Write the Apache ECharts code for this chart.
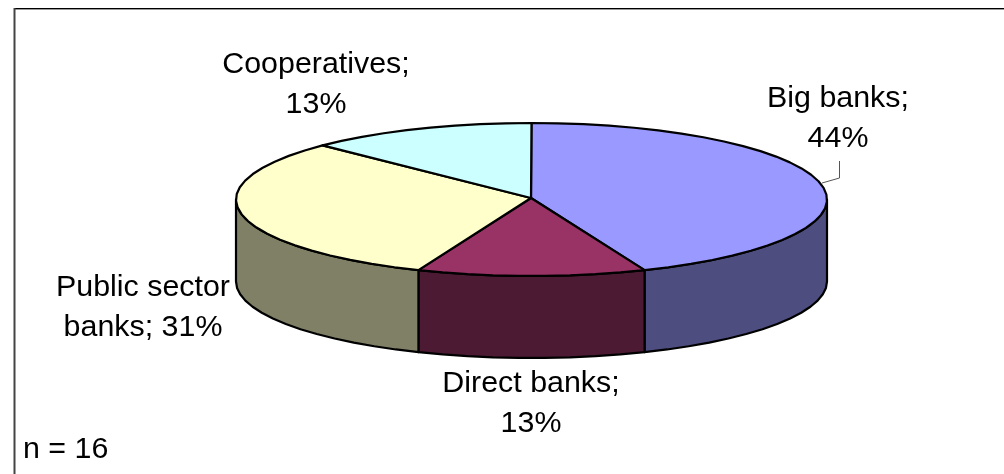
<!DOCTYPE html>
<html>
<head>
<meta charset="utf-8">
<style>html,body{margin:0;padding:0;background:#fff}#chart{width:1004px;height:474px}</style>
<script src="https://cdn.jsdelivr.net/npm/echarts@6/dist/echarts.min.js"></script>
</head>
<body>
<div id="chart"></div>
<script>
// Banking groups and the number of respondents in each; percentages follow from the counts.
const categories = ['Big banks', 'Direct banks', 'Public sector banks', 'Cooperatives'];
const counts = [7, 2, 5, 2];
const labelFormats = ['Big banks;\n{p}%', 'Direct banks;\n{p}%', 'Public sector\nbanks; {p}%', 'Cooperatives;\n{p}%'];
const topColors = ['#9999FF', '#993366', '#FFFFCC', '#CCFFFF'];
const sideColors = ['#4D4D80', '#4C1A33', '#808066', '#668080'];

// Layout of the tilted disc: ellipse of the upper face, wall height, apex of the slices.
const disc = { cx: 531.5, cy: 199.5, rx: 295.5, ry: 76.5, depth: 82, apexX: 531, apexY: 198 };
const labelAnchors = [[838, 119], [531, 404], [143, 308], [316, 85]];
const FONT = '30.4px "Liberation Sans", Arial, sans-serif';

// Turn counts into clockwise angles measured from twelve o'clock.
const total = counts.reduce((a, b) => a + b, 0);
const arcs = [];
counts.reduce((start, v) => {
  const end = start + (v / total) * Math.PI * 2;
  arcs.push([start, end]);
  return end;
}, 0);

const rimPoint = (a, dy) => [
  disc.cx + disc.rx * Math.sin(a),
  disc.cy - disc.ry * Math.cos(a) + (dy || 0)
];
// The rim is a chain of short facets, as in an office-style 3D pie.
function rim(from, to, dy) {
  const steps = Math.max(2, Math.ceil(Math.abs(to - from) / 0.09));
  const pts = [];
  for (let i = 0; i <= steps; i++) pts.push(rimPoint(from + (to - from) * i / steps, dy));
  return pts;
}
const outline = { stroke: '#000', lineWidth: 2.2, lineJoin: 'round' };

// Only the part of a slice facing the viewer (lower half of the ellipse) shows a wall.
function renderWall(params, api) {
  const i = api.value(0);
  const from = Math.max(arcs[i][0], Math.PI / 2);
  const to = Math.min(arcs[i][1], Math.PI * 1.5);
  if (to <= from) return { type: 'group', children: [] };
  const pts = rim(from, to, 0).concat(rim(to, from, disc.depth));
  return {
    type: 'polygon',
    shape: { points: pts },
    style: Object.assign({ fill: sideColors[i] }, outline)
  };
}

// Upper face of a slice plus its caption.
function renderTop(params, api) {
  const i = api.value(0);
  const pts = [[disc.apexX, disc.apexY]].concat(rim(arcs[i][0], arcs[i][1], 0));
  const percent = Math.round((api.value(1) / total) * 100);
  return {
    type: 'group',
    children: [
      { type: 'polygon', shape: { points: pts }, style: Object.assign({ fill: topColors[i] }, outline) },
      {
        type: 'text',
        z2: 10,
        style: {
          text: labelFormats[i].replace('{p}', percent),
          x: labelAnchors[i][0],
          y: labelAnchors[i][1],
          align: 'center',
          verticalAlign: 'middle',
          font: FONT,
          lineHeight: 40,
          fill: '#000'
        }
      }
    ]
  };
}

const seriesData = categories.map((name, i) => ({ name, value: [i, counts[i]] }));

const chart = echarts.init(document.getElementById('chart'), null, { renderer: 'canvas' });
chart.setOption({
  animation: false,
  backgroundColor: '#fff',
  series: [
    { type: 'custom', coordinateSystem: 'none', renderItem: renderWall, data: seriesData, silent: true, z: 1 },
    { type: 'custom', coordinateSystem: 'none', renderItem: renderTop, data: seriesData, silent: true, z: 2 }
  ],
  graphic: [
    // Chart frame: open on the right and at the bottom.
    { type: 'line', z: 5, shape: { x1: 14, y1: 8.5, x2: 1004, y2: 8.5 }, style: { stroke: '#000', lineWidth: 1 } },
    { type: 'line', z: 5, shape: { x1: 14, y1: 9.5, x2: 1004, y2: 9.5 }, style: { stroke: '#999', lineWidth: 1 } },
    { type: 'line', z: 5, shape: { x1: 14.5, y1: 8, x2: 14.5, y2: 474 }, style: { stroke: '#444', lineWidth: 2 } },
    // Leader from the Big banks caption to the rim.
    { type: 'polyline', z: 5, shape: { points: [[822, 183], [839.5, 178], [839.5, 161]] }, style: { stroke: '#555', lineWidth: 1, fill: null } },
    { type: 'text', z: 5, style: { text: 'n = ' + total, x: 23, y: 450, verticalAlign: 'middle', font: FONT, fill: '#000' } }
  ]
});
</script>
</body>
</html>
